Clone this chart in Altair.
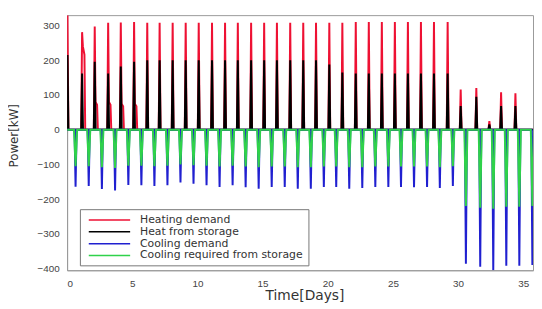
import altair as alt
import pandas as pd

# ---- data ----
heat_t = [0.03, 1.15, 2.12, 3.15, 4.12, 5.14, 6.15, 7.10, 8.10, 9.10,
          10.10, 11.12, 12.12, 13.10, 14.12, 15.12, 16.10, 17.12, 18.12, 19.10,
          20.12, 21.12, 22.15, 23.15, 24.15, 25.15, 26.15, 27.15, 28.15, 29.20,
          30.20, 31.40, 32.40, 33.30, 34.40]
heat_peak = [330, 281, 297, 308, 309, 310, 308, 308, 308, 308,
             308, 308, 308, 308, 308, 308, 308, 308, 308, 308,
             308, 308, 310, 310, 310, 310, 310, 310, 310, 310,
             116, 120, 25, 108, 105]
heat_bump = [0, 240, 80, 80, 75, 75, 0, 0, 0, 0,
             0, 0, 0, 0, 0, 0, 0, 0, 0, 0,
             0, 0, 0, 0, 0, 0, 0, 0, 0, 0,
             0, 0, 0, 0, 0]
store_peak = [215, 162, 196, 162, 182, 196, 200, 200, 200, 200,
              200, 200, 200, 200, 200, 200, 200, 200, 200, 200,
              188, 165, 162, 162, 162, 162, 162, 162, 162, 162,
              68, 95, 15, 68, 68]

cool_t = [0.65, 1.66, 2.67, 3.68, 4.70, 5.70, 6.70, 7.70, 8.70, 9.70,
          10.70, 11.70, 12.70, 13.70, 14.70, 15.70, 16.70, 17.70, 18.70, 19.70,
          20.65, 21.65, 22.65, 23.65, 24.65, 25.62, 26.62, 27.62, 28.60, 29.60,
          30.60, 31.70, 32.70, 33.70, 34.70, 35.70]
cool_peak = [-164, -162, -171, -175, -159, -160, -162, -160, -152, -156,
             -160, -165, -160, -166, -170, -165, -165, -170, -170, -165,
             -165, -170, -168, -165, -165, -165, -166, -165, -168, -162,
             -386, -395, -405, -392, -392, -390]
coolstore_peak = [-105, -105, -108, -110, -104, -104, -105, -104, -100, -102,
                  -104, -106, -104, -106, -108, -106, -106, -108, -108, -106,
                  -106, -108, -108, -106, -106, -106, -106, -106, -108, -105,
                  -220, -225, -228, -222, -222, -220]

series = ["Heating demand", "Heat from storage", "Cooling demand",
          "Cooling required from storage"]
colors = ["#ee1133", "#000000", "#2020d0", "#2fd24a"]
X_END = 35.75


def spikes(name, times, peaks, hw, bumps=None):
    rows = [(0.0, 0.0)]
    for i, (t, p) in enumerate(zip(times, peaks)):
        rows.append((t - hw, 0.0))
        rows.append((t, p))
        b = bumps[i] if bumps else 0
        if b:
            rows.append((t + 0.06, b))
            rows.append((t + 0.18, b * 0.9))
            rows.append((t + 0.24, 0.0))
        else:
            rows.append((t + hw, 0.0))
    rows.append((X_END, 0.0))
    return [{"t": t, "p": v, "s": name, "o": k} for k, (t, v) in enumerate(rows)]


records = []
records += spikes(series[0], heat_t, heat_peak, 0.07, heat_bump)
records += spikes(series[1], heat_t, store_peak, 0.07)
records += spikes(series[2], cool_t, cool_peak, 0.08)
records += spikes(series[3], cool_t, coolstore_peak, 0.12)
df = pd.DataFrame(records)

FONT = "Liberation Sans"
WIDE = "DejaVu Sans"

color = alt.Color(
    "s:N",
    scale=alt.Scale(domain=series, range=colors),
    legend=alt.Legend(
        title=None, orient="none", legendX=13, legendY=197,
        direction="vertical", strokeColor="#777", fillColor="white",
        padding=5, symbolType="M-0.4,0H8", symbolSize=100,
        symbolStrokeWidth=1.5, labelFont=WIDE, labelFontSize=11,
        labelColor="#333", labelOffset=44, rowPadding=1, labelLimit=300,
    ),
    sort=series,
)

x = alt.X("t:Q", scale=alt.Scale(domain=[0, X_END], nice=False, zero=False),
          axis=alt.Axis(values=[0, 5, 10, 15, 20, 25, 30, 35], title="Time[Days]",
                        grid=False, ticks=False, labelPadding=8,
                        titleX=241, titleAlign="center",
                        titleY=30, titleBaseline="alphabetic", titleFont=WIDE,
                        titleFontSize=14, titleFontWeight="normal"))
y = alt.Y("p:Q", scale=alt.Scale(domain=[-405, 330], nice=False, zero=False),
          axis=alt.Axis(values=[-400, -300, -200, -100, 0, 100, 200, 300],
                        title="Power[kW]", grid=False, ticks=False,
                        labelPadding=8, titleX=-47, titleY=122, titleFont=WIDE,
                        titleFontSize=12, titleFontWeight="normal"))

layers = []
for name in series:
    layers.append(
        alt.Chart(df).transform_filter(alt.datum.s == name)
        .mark_line(strokeWidth=2, clip=True)
        .encode(x=x, y=y, color=color, order="o:Q")
    )

chart = alt.layer(*layers).properties(
    width=473, height=259,
    autosize=alt.AutoSizeParams(type="none"),
    padding={"left": 60, "top": 5, "right": 1, "bottom": 32},
).configure_view(stroke="#999", strokeWidth=1).configure_axis(
    labelFont=FONT, titleFont=FONT, labelFontSize=10, labelColor="#444",
    titleColor="#333", domainColor="#999",
)

chart.save("out.html", embed_options={"renderer": "svg", "actions": False})
